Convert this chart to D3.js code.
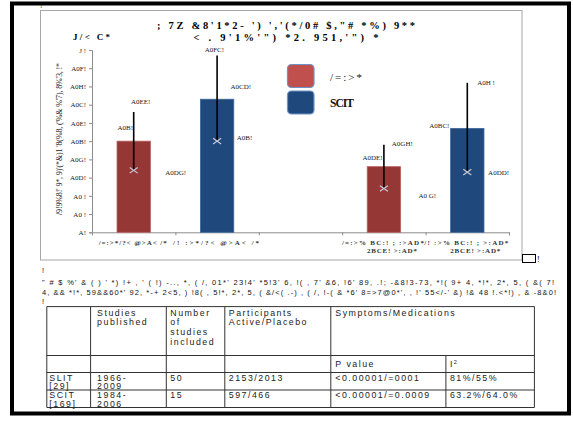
<!DOCTYPE html>
<html><head><meta charset="utf-8">
<script src="https://cdn.jsdelivr.net/npm/d3@7"></script>
<style>body{margin:0;background:#fff}svg{display:block}</style>
</head><body>
<script>
// ---- chart data ----
const categories = [
  ["/=:>*/?< @>A< /*"],
  ["/! :>*/?< @>A< /*"],
  [""],
  ["/=:>% BC:! ; :>AD*", "2BCE! >:AD*"],
  ["/! :>% BC:! ; >:AD*", "2BCE! >:AD*"]
];
const seriesNames = ["/=:>*", "SCIT"];
const barSeries  = [0, 1, null, 0, 1];
const barValues  = [0.50, 0.73, null, 0.36, 0.57];
const highValues = [0.66, 0.97, null, 0.48, 0.82];
const lowValues  = [0.34, 0.50, null, 0.24, 0.33];
const barLabels  = ["A0B!", "A0CD!", null, "A0DE!", "A0BC!"];
const highLabels = ["A0EE!", "A0FC!", null, "A0GH!", "A0H !"];
const lowLabels  = ["A0DG!", "A0B!", null, "A0 G!", "A0DD!"];
const yTickValues = [0, 0.1, 0.2, 0.3, 0.4, 0.5, 0.6, 0.7, 0.8, 0.9, 1.0];
const yTickLabels = ["A!", "A0 !", "A0 !", "A0D!", "A0G!", "A0B!", "A0E!", "A0C!", "A0H!", "A0F!", "J !"];
const titleLines = ["; 7Z &8'1*2- ') ','(*/0# $,\"# *%) 9**", "< . 9'1%'\") *2. 951,'\") *"];
const titleSide = "J/< C*";
const yTitle = "/9!9%8!' 9*, 9)'(*&)1 '8(%8, ('%& %'7), 8%'3, !*";
const paragraph = [
  "\" # $ %' & ( ) ' *) !+ , ' ( !) -.., *, ( /, 01*' 23!4' *5!3' 6, !( , 7' &6, !6' 89, .!; -&8!3-73, *!( 9+ 4, *!*, 2*, 5, ( &( 7!",
  "4, && *!*, 59&&60*' 92, *-+ 2<5, ) !8( , 5!*, 2*, 5, ( &/<( .-) , ( /, !-( & *6' 8=>7@0*', , !' 55</-' &) !& 48 !.<*!) , & -8&0!"
];

// ---- table data ----
const tableHeader = [[""], ["Studies", "published"], ["Number", "of", "studies", "included"], ["Participants", "Active/Placebo"], ["Symptoms/Medications"]];
const tableSubHeader = ["", "", "", "", "P value", "I²"];
const tableRows = [
  [["SLIT", "[29]"], ["1966-", "2009"], ["50"], ["2153/2013"], ["<0.00001/=0001"], ["81%/55%"]],
  [["SCIT", "[169]"], ["1984-", "2006"], ["15"], ["597/466"], ["<0.00001/=0.0009"], ["63.2%/64.0%"]]
];

// ---- styles / layout ----
const barFill = ["#953735", "#1f497d"];
const barEdge = ["#b9605d", "#3e679a"];
const swatchFill = ["#c0504d", "#1f497d"];
// label offsets relative to (bar centre, value position)
const offBar  = [[-8.5, -13], [23.7, -12.5], null, [-11.3, -9], [-28, -2.7]];
const offHigh = [[7, -10], [-2.7, -5], null, [18.4, -0.5], [18.7, 0]];
const offLow  = [[42, 2.7], [27.5, -3.5], null, [43.4, 7], [31.3, 0.6]];

const W = 573, H = 422;
const svg = d3.select("body").append("svg").attr("width", W).attr("height", H);
const serif = "'Liberation Serif', 'DejaVu Serif', serif";
const sans = "'Liberation Sans', Arial, sans-serif";

// page frame
svg.append("rect").attr("x", 12).attr("y", 3.5).attr("width", 557).attr("height", 410)
  .attr("fill", "none").attr("stroke", "#000").attr("stroke-width", 4);

// chart frame
svg.append("rect").attr("x", 40.5).attr("y", 10.5).attr("width", 481.5).attr("height", 249.5)
  .attr("fill", "#fff").attr("stroke", "#a6a6a6").attr("stroke-width", 1);
svg.append("text").attr("x", 40).attr("y", 8).attr("font-family", serif).attr("font-size", 7).text("!");

// title
svg.append("text").attr("x", 286).attr("y", 28.5).attr("text-anchor", "middle")
  .attr("font-family", serif).attr("font-weight", "bold").attr("font-size", 10.5)
  .attr("textLength", 258).attr("lengthAdjust", "spacing").text(titleLines[0]);
svg.append("text").attr("x", 286).attr("y", 40.5).attr("text-anchor", "middle")
  .attr("font-family", serif).attr("font-weight", "bold").attr("font-size", 10.5)
  .attr("textLength", 185).attr("lengthAdjust", "spacing").text(titleLines[1]);
svg.append("text").attr("x", 73).attr("y", 40).attr("font-family", serif).attr("font-weight", "bold")
  .attr("font-size", 9).attr("textLength", 37).attr("lengthAdjust", "spacing").text(titleSide);

// scales
const x = d3.scaleBand().domain(d3.range(categories.length)).range([92, 509]).padding(0);
const y = d3.scaleLinear().domain([0, 1]).range([232.3, 50]);
const barW = x.bandwidth() * 0.4;

// y axis
const yAxis = svg.append("g").attr("transform", "translate(92,0)")
  .call(d3.axisLeft(y).tickValues(yTickValues).tickSize(3).tickPadding(3)
    .tickFormat((d, i) => yTickLabels[i]));
yAxis.selectAll("path,line").attr("stroke", "#8c8c8c");
yAxis.selectAll("text").attr("font-family", serif).attr("font-size", 7).attr("fill", "#222");

// y title
svg.append("text").attr("transform", "translate(62,139) rotate(-90)").attr("text-anchor", "middle")
  .attr("font-family", serif).attr("font-size", 8).attr("fill", "#222")
  .attr("textLength", 152).attr("lengthAdjust", "spacing").text(yTitle);

// x axis: ticks at category boundaries
const xb = d3.scaleLinear().domain([0, categories.length]).range([92, 509]);
const xAxis = svg.append("g").attr("transform", "translate(0,232.3)")
  .call(d3.axisBottom(xb).tickValues(d3.range(1, categories.length + 1)).tickSize(3).tickFormat(""));
xAxis.selectAll("path,line").attr("stroke", "#8c8c8c");

// category labels
const catWidths = [[68], [86], [0], [82, 50], [84, 50]];
categories.forEach((lines, i) => {
  lines.forEach((t, j) => {
    if (!t) return;
    svg.append("text").attr("x", x(i) + x.bandwidth() / 2 + (j ? 8 : -1)).attr("y", 244.5 + j * 8)
      .attr("text-anchor", "middle").attr("font-family", serif).attr("font-size", 7)
      .attr("font-weight", "bold").attr("fill", "#333")
      .attr("textLength", catWidths[i][j]).attr("lengthAdjust", "spacing").text(t);
  });
});

// bars
const idx = d3.range(categories.length).filter(i => barValues[i] != null);
const cx = i => x(i) + x.bandwidth() / 2;
svg.append("g").selectAll("rect").data(idx).join("rect")
  .attr("x", i => cx(i) - barW / 2).attr("width", barW)
  .attr("y", i => y(barValues[i])).attr("height", i => y(0) - y(barValues[i]))
  .attr("fill", i => barFill[barSeries[i]]).attr("stroke", i => barEdge[barSeries[i]]).attr("stroke-width", 0.8);

// high-low lines
svg.append("g").selectAll("line").data(idx).join("line")
  .attr("x1", cx).attr("x2", cx)
  .attr("y1", i => y(lowValues[i])).attr("y2", i => y(highValues[i]))
  .attr("stroke", "#000").attr("stroke-width", 1.6);

// low markers
const mk = 4;
svg.append("g").selectAll("path").data(idx).join("path")
  .attr("d", i => {
    const px = cx(i), py = y(lowValues[i]);
    return `M${px - mk},${py - mk * 0.7}L${px + mk},${py + mk * 0.7}M${px - mk},${py + mk * 0.7}L${px + mk},${py - mk * 0.7}`;
  })
  .attr("stroke", "#c9c9dc").attr("stroke-width", 1.2).attr("fill", "none");

// value labels
function valueLabels(vals, labels, offs) {
  svg.append("g").selectAll("text").data(idx).join("text")
    .attr("x", i => cx(i) + offs[i][0]).attr("y", i => y(vals[i]) + offs[i][1])
    .attr("text-anchor", "middle").attr("dominant-baseline", "central")
    .attr("font-family", serif).attr("font-size", 7).attr("fill", "#222")
    .text(i => labels[i]);
}
valueLabels(barValues, barLabels, offBar);
valueLabels(highValues, highLabels, offHigh);
valueLabels(lowValues, lowLabels, offLow);

// legend
const lg = svg.append("g");
seriesNames.forEach((name, k) => {
  const ly = 64.5 + k * 26.5;
  lg.append("rect").attr("x", 287.5).attr("y", ly).attr("width", 26.5).attr("height", 23).attr("rx", 4)
    .attr("fill", swatchFill[k]).attr("stroke", "#6f93c6").attr("stroke-width", 1.2);
  lg.append("text").attr("x", 330).attr("y", ly + 12).attr("dominant-baseline", "central")
    .attr("font-family", serif).attr("font-weight", k ? "bold" : "normal").attr("font-size", k ? 11.5 : 11)
    .attr("textLength", k ? 24 : 32).attr("lengthAdjust", "spacing").attr("fill", "#111").text(name);
});

// small box after the chart
svg.append("rect").attr("x", 522.5).attr("y", 254.5).attr("width", 13).attr("height", 8)
  .attr("fill", "#fff").attr("stroke", "#000").attr("stroke-width", 1);
svg.append("text").attr("x", 537).attr("y", 262).attr("font-family", serif).attr("font-size", 8).text("!");

// paragraph below the chart
const para = svg.append("g").attr("font-family", sans).attr("font-size", 7.5).attr("fill", "#111");
para.append("text").attr("x", 42).attr("y", 273).text("!");
para.append("text").attr("x", 42).attr("y", 285).attr("textLength", 512).attr("lengthAdjust", "spacing").text(paragraph[0]);
para.append("text").attr("x", 42).attr("y", 295).attr("textLength", 514).attr("lengthAdjust", "spacing").text(paragraph[1]);
para.append("text").attr("x", 42).attr("y", 304).text("!");

// table
const colX = [46.8, 90.6, 166.3, 224.8, 330.8, 445.9, 534.4];
const rowY = [306.6, 355.5, 372.5, 390, 407.5];
const tg = svg.append("g");
const tl = (x1, y1, x2, y2) => tg.append("line").attr("x1", x1).attr("y1", y1).attr("x2", x2).attr("y2", y2)
  .attr("stroke", "#333").attr("stroke-width", 1);
rowY.forEach(v => tl(colX[0], v, colX[6], v));
colX.forEach((v, i) => tl(v, i === 5 ? rowY[1] : rowY[0], v, rowY[4]));

const tt = svg.append("g").attr("font-family", sans).attr("font-size", 8.8).attr("letter-spacing", 1.5).attr("fill", "#222");
const padX = [2.5, 6.5, 4, 4, 4.5, 4];
tableHeader.forEach((lines, c) => lines.forEach((t, j) =>
  tt.append("text").attr("x", colX[c] + padX[c]).attr("y", 315.5 + j * 9.8).text(t)));
tableSubHeader.forEach((t, c) => {
  if (!t) return;
  const el = tt.append("text").attr("x", colX[c] + padX[c]).attr("y", 366.5);
  if (t === "I²") { el.text("I"); el.append("tspan").attr("dy", -3).attr("font-size", 5.5).text("2"); }
  else el.text(t);
});
tableRows.forEach((row, r) => row.forEach((lines, c) => lines.forEach((t, j) =>
  tt.append("text").attr("x", colX[c] + padX[c]).attr("y", rowY[2 + r] + 8 + j * 8.8).text(t))));
</script>
</body></html>
